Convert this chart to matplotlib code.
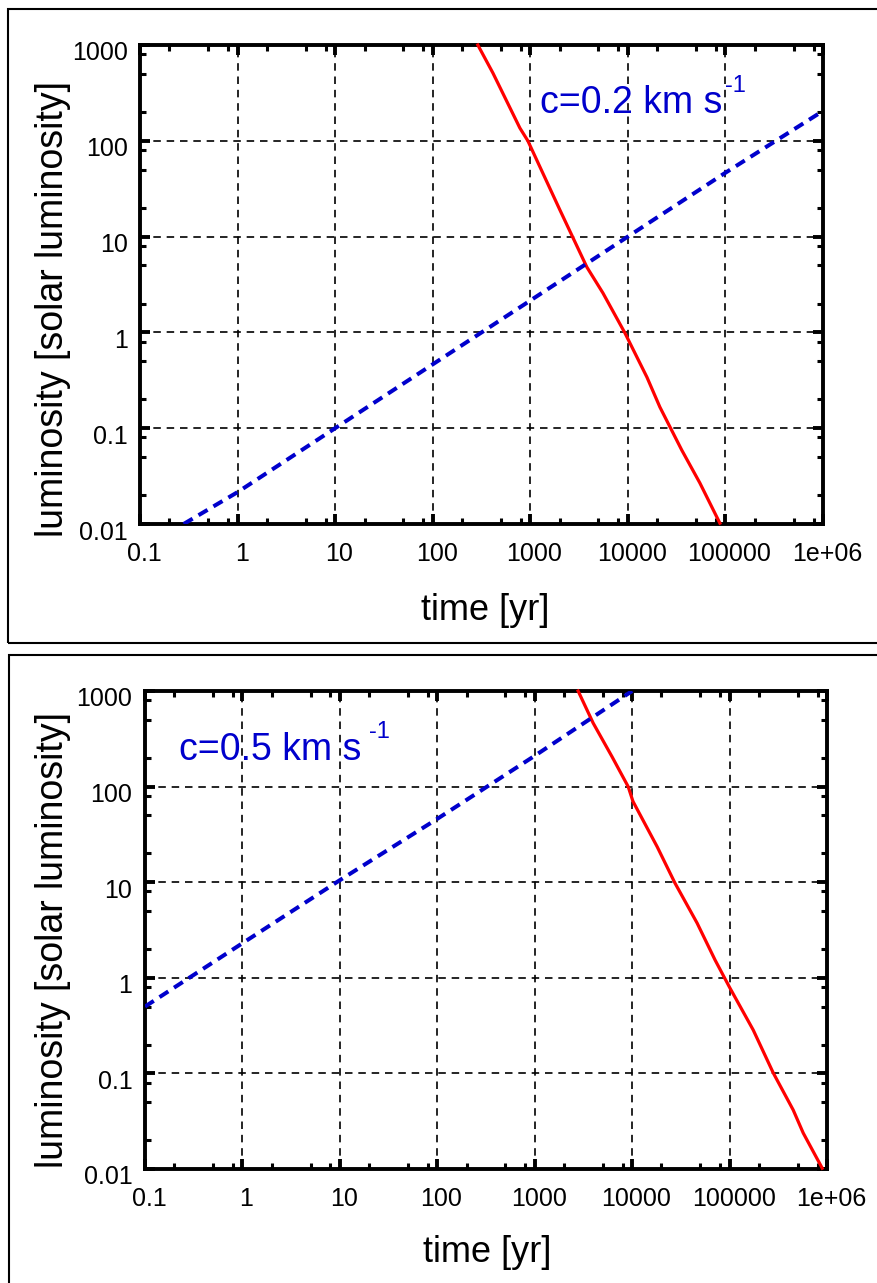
import matplotlib
matplotlib.use("Agg")
import matplotlib.pyplot as plt
from matplotlib.patches import Rectangle
from matplotlib.ticker import FixedLocator, FixedFormatter
import matplotlib.transforms as mtransforms

plt.rcParams["font.family"] = ["Liberation Sans", "DejaVu Sans"]

# ---- data ----
x_ticks = [0.1, 1, 10, 100, 1000, 10000, 100000, 1e6]
x_labels = ["0.1", "1", "10", "100", "1000", "10000", "100000", "1e+06"]
y_ticks = [0.01, 0.1, 1, 10, 100, 1000]
y_labels = ["0.01", "0.1", "1", "10", "100", "1000"]

# top panel, c = 0.2 km/s
top_red_t = [290, 414, 782, 944, 2010, 3800, 5550, 9310, 15700, 21300, 35700, 54700, 87700]
top_red_L = [1000, 510, 136, 100, 19, 4.8, 2.58, 0.99, 0.34, 0.166, 0.059, 0.0268, 0.0102]
top_blue_t = [0.28, 1, 10, 100, 1000, 10000, 100000, 1e6]
top_blue_L = [0.01, 0.0215, 0.1, 0.464, 2.15, 10, 46.4, 205]

# bottom panel, c = 0.5 km/s
bot_red_t = [2790, 3980, 6240, 9100, 10200, 18100, 27500, 46400, 71100, 101000,
             175000, 281000, 450000, 570000, 893000]
bot_red_L = [1000, 462, 204, 100, 70, 23.4, 9.8, 3.74, 1.53, 0.78,
             0.284, 0.101, 0.0414, 0.0238, 0.0102]
bot_blue_t = [0.1, 1, 10, 100, 1000, 10000]
bot_blue_L = [0.5, 2.3, 10.5, 46, 210, 1000]

W, H = 877, 1283
fig = plt.figure(figsize=(W / 100, H / 100), dpi=100)


def fx(px):
    return px / W


def fy(py):
    return 1 - py / H


# panel frames
fig.add_artist(Rectangle((fx(8), fy(643)), fx(880) - fx(8), fy(9) - fy(643),
                         transform=fig.transFigure, fill=False, lw=1.5, ec="black"))
fig.add_artist(Rectangle((fx(9), fy(1295)), fx(885) - fx(9), fy(655) - fy(1295),
                         transform=fig.transFigure, fill=False, lw=1.5, ec="black"))


def setup_axes(ax):
    ax.set_xscale("log")
    ax.set_yscale("log")
    ax.set_xlim(0.1, 1e6)
    ax.set_ylim(0.01, 1000)
    ax.xaxis.set_major_locator(FixedLocator(x_ticks))
    ax.xaxis.set_major_formatter(FixedFormatter(x_labels))
    ax.yaxis.set_major_locator(FixedLocator(y_ticks))
    ax.yaxis.set_major_formatter(FixedFormatter(y_labels))
    minors_x = [m * 10.0 ** e for e in range(-1, 6) for m in (2, 5, 8)]
    minors_y = [m * 10.0 ** e for e in range(-2, 3) for m in (2, 5, 8)]
    ax.xaxis.set_minor_locator(FixedLocator(minors_x))
    ax.yaxis.set_minor_locator(FixedLocator(minors_y))
    ax.xaxis.set_minor_formatter(FixedFormatter([]))
    ax.yaxis.set_minor_formatter(FixedFormatter([]))
    ax.tick_params(which="both", direction="in", top=True, right=True)
    ax.tick_params(which="major", length=7, width=2.8, labelsize=18, colors="black")
    ax.tick_params(which="minor", length=4, width=2.2)
    ax.tick_params(axis="x", which="major", pad=13)
    ax.tick_params(axis="y", which="major", pad=9)
    for s in ax.spines.values():
        s.set_linewidth(2.8)
    ax.grid(True, which="major", color="black", lw=1.2, linestyle=(0, (4.5, 3.5)))
    ax.set_axisbelow(True)
    # labels slightly offset as in the reference
    off_x = mtransforms.ScaledTranslation(4 / 100, 0, fig.dpi_scale_trans)
    off_y = mtransforms.ScaledTranslation(0, -6 / 100, fig.dpi_scale_trans)
    for lab in ax.get_xticklabels():
        lab.set_transform(lab.get_transform() + off_x)
    for lab in ax.get_yticklabels():
        lab.set_transform(lab.get_transform() + off_y)


red = "#ff0000"
blue = "#0000cc"

# top panel
ax1 = fig.add_axes([fx(140), fy(524), fx(823) - fx(140), fy(45) - fy(524)])
setup_axes(ax1)
ax1.plot(top_red_t, top_red_L, color=red, lw=2.3, zorder=3, clip_on=False)
ax1.plot(top_blue_t, top_blue_L, color=blue, lw=2.9, dashes=(2.6, 1.7), zorder=3)

# bottom panel
ax2 = fig.add_axes([fx(145), fy(1169), fx(827) - fx(145), fy(691) - fy(1169)])
setup_axes(ax2)
ax2.plot(bot_red_t, bot_red_L, color=red, lw=2.3, zorder=3, clip_on=False)
ax2.plot(bot_blue_t, bot_blue_L, color=blue, lw=2.9, dashes=(2.6, 1.7), zorder=3)

# axis labels
for yc, xc in ((610, 485), (1252, 487)):
    fig.text(fx(xc), fy(yc), "time [yr]", fontsize=26, ha="center", va="center")
for yc in (309, 940):
    fig.text(fx(53), fy(yc), "luminosity [solar luminosity]", fontsize=27,
             rotation=90, ha="center", va="center")

# annotations
fig.text(fx(540), fy(113), "c=0.2 km s", fontsize=27, color=blue, ha="left", va="baseline")
fig.text(fx(725), fy(92), "-1", fontsize=17, color=blue, ha="left", va="baseline")
fig.text(fx(179), fy(760), "c=0.5 km s", fontsize=27, color=blue, ha="left", va="baseline")
fig.text(fx(369), fy(738), "-1", fontsize=17, color=blue, ha="left", va="baseline")

fig.savefig("out.png", dpi=100)
